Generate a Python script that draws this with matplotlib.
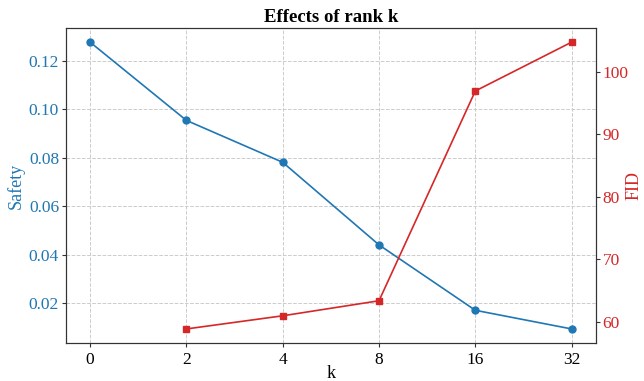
import matplotlib
matplotlib.use("Agg")
import matplotlib.pyplot as plt

k_labels = ["0", "2", "4", "8", "16", "32"]
safety = [0.1278, 0.0955, 0.0782, 0.0441, 0.0171, 0.0094]
fid_labels = ["2", "4", "8", "16", "32"]
fid = [58.9, 61.0, 63.4, 96.9, 104.7]

plt.rcParams["font.family"] = ["Liberation Serif", "DejaVu Serif"]
plt.rcParams["font.size"] = 13

blue = "#1f77b4"
red = "#d62728"

fig = plt.figure(figsize=(6.44, 3.81), dpi=100)
ax1 = fig.add_subplot(111)
fig.subplots_adjust(left=0.1025, right=0.925, bottom=0.099, top=0.927)

x = list(range(len(k_labels)))
fx = [k_labels.index(l) for l in fid_labels]

ax1.plot(x, safety, color=blue, marker="o", markersize=5, linewidth=1.2)
ax1.set_xticks(x)
ax1.set_xticklabels(k_labels)
ax1.set_xlabel("k", labelpad=-2)
ax1.set_ylabel("Safety", color=blue, labelpad=3)
ax1.grid(True, linestyle="--", color="#cccccc", linewidth=0.7)

ax2 = ax1.twinx()
ax2.plot(fx, fid, color=red, marker="s", markersize=5, linewidth=1.2)
ax2.set_ylabel("FID", color=red, labelpad=-2)

for ax in (ax1, ax2):
    for s in ax.spines.values():
        s.set_color("#333333")
    ax.tick_params(colors="#333333", length=3, width=0.8, labelsize=12.5)
ax1.tick_params(axis="y", labelcolor=blue, pad=2)
ax1.tick_params(axis="x", labelcolor="black", pad=3)
ax2.tick_params(axis="y", labelcolor=red, pad=2)

ax1.set_title("Effects of rank k", fontweight="bold", fontsize=13.5, pad=4)

fig.savefig("out.png", dpi=100)
